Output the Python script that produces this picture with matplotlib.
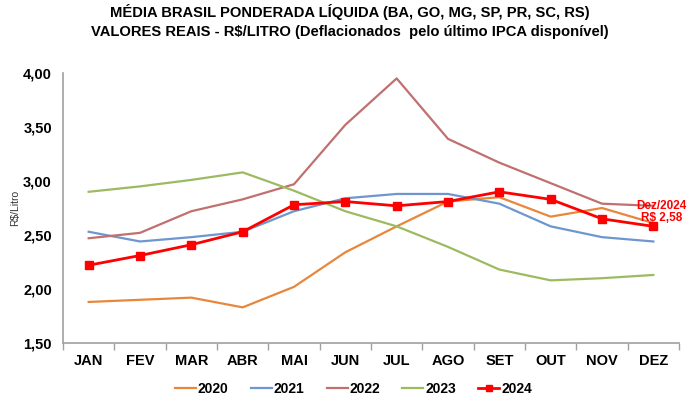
import matplotlib
matplotlib.use("Agg")
import matplotlib.pyplot as plt

months = ["JAN", "FEV", "MAR", "ABR", "MAI", "JUN", "JUL", "AGO", "SET", "OUT", "NOV", "DEZ"]
y2020 = [1.88, 1.90, 1.92, 1.83, 2.02, 2.34, 2.58, 2.81, 2.85, 2.67, 2.75, 2.61]
y2021 = [2.53, 2.44, 2.48, 2.53, 2.72, 2.84, 2.88, 2.88, 2.79, 2.58, 2.48, 2.44]
y2022 = [2.47, 2.52, 2.72, 2.83, 2.97, 3.52, 3.95, 3.39, 3.17, 2.98, 2.79, 2.77]
y2023 = [2.90, 2.95, 3.01, 3.08, 2.91, 2.72, 2.58, 2.39, 2.18, 2.08, 2.10, 2.13]
y2024 = [2.22, 2.31, 2.41, 2.53, 2.78, 2.81, 2.77, 2.81, 2.90, 2.83, 2.65, 2.58]
yticks = [1.5, 2.0, 2.5, 3.0, 3.5, 4.0]
ytick_labels = ["1,50", "2,00", "2,50", "3,00", "3,50", "4,00"]

plt.rcParams['font.family'] = ['Liberation Sans', 'DejaVu Sans']

fig = plt.figure(figsize=(7.0, 3.98), dpi=100)
ax = fig.add_axes([63/700, 1 - 343/398, (679-63)/700, (343-73)/398])

x = list(range(len(months)))
ax.plot(x, y2020, color="#E8873C", lw=1.6, label="2020")
ax.plot(x, y2021, color="#6E96CF", lw=1.6, label="2021")
ax.plot(x, y2022, color="#C0706E", lw=1.6, label="2022")
ax.plot(x, y2023, color="#9CBB60", lw=1.6, label="2023")
ax.plot(x, y2024, color="#FF0000", lw=2.0, marker="s", ms=5.5, label="2024")

ax.set_xlim(-0.5, 11.5)
ax.set_ylim(1.5, 4.0)
ax.set_yticks(yticks)
ax.set_yticklabels(ytick_labels, fontsize=10.5, fontweight="bold")
ax.set_xticks(x)
ax.set_xticklabels(months, fontsize=10.5, fontweight="bold")
ax.tick_params(axis="x", length=0, pad=8)
ax.tick_params(axis="y", length=0, pad=8)
ax.set_xticks([i - 0.5 for i in range(13)], minor=True)
ax.tick_params(axis="x", which="minor", length=5, color="#A0A0A0", width=1)

for s in ["top", "right"]:
    ax.spines[s].set_visible(False)
for s in ["left", "bottom"]:
    ax.spines[s].set_color("#A0A0A0")
    ax.spines[s].set_linewidth(1.2)

ax.set_ylabel("R$/Litro", fontsize=7.5, color="#333333", labelpad=2)

ax.annotate("Dez/2024\nR$ 2,58", xy=(11, y2024[-1]), xytext=(11.16, 2.71),
            ha="center", va="center", fontsize=8.5, fontweight="bold", color="#FF0000",
            linespacing=1.0)

fig.text(0.5, 0.99, "MÉDIA BRASIL PONDERADA LÍQUIDA (BA, GO, MG, SP, PR, SC, RS)\nVALORES REAIS - R$/LITRO (Deflacionados  pelo último IPCA disponível)",
         ha="center", va="top", fontsize=10.6, fontweight="bold", linespacing=1.5)

leg = fig.legend(loc="center", bbox_to_anchor=(0.505, 1 - 389/398), ncol=5, frameon=False,
                 handlelength=1.5, handletextpad=0.15, columnspacing=1.6,
                 markerscale=0.8, prop={"weight": "bold", "size": 10})

fig.savefig("out.png", dpi=100)
